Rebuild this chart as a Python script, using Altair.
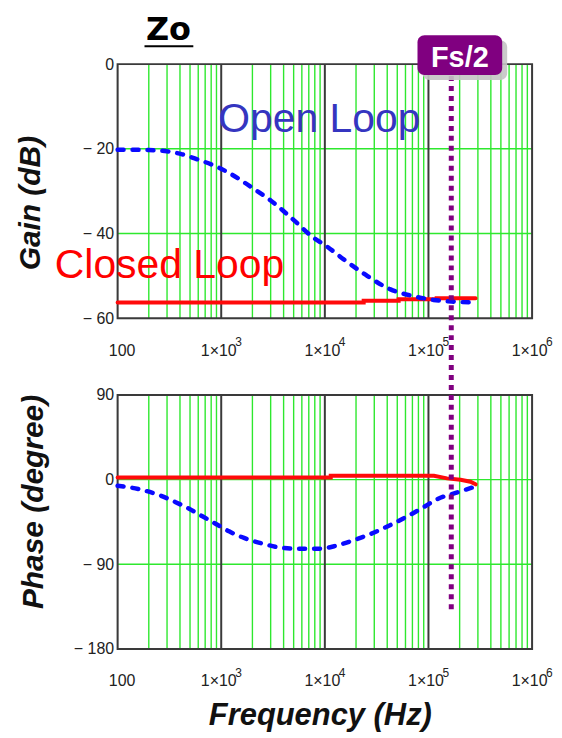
import altair as alt
import pandas as pd

# ---------------- data ----------------
freq_decades = [100, 1000, 10000, 100000, 1000000]
x_tick_base = ["100", "1×10", "1×10", "1×10", "1×10"]
x_tick_exp = ["", "3", "4", "5", "6"]
major_freqs = [1000, 10000, 100000]
minor_freqs = [m * d for d in [100, 1000, 10000, 100000] for m in range(2, 10)]

gain_ticks = [0, -20, -40, -60]
gain_grid = [-20, -40]
phase_ticks = [90, 0, -90, -180]
phase_grid = [0, -90]

ol_gain_f = [100, 200, 300, 420, 590, 920, 1150, 2080, 3000, 5050, 7870, 9840,
             15200, 25600, 43000, 72000, 112000, 175000, 285000]
ol_gain_db = [-20.2, -20.3, -20.6, -21.3, -22.5, -24.3, -25.5, -29.5, -32.2, -36.9,
              -41.1, -42.6, -46.1, -50.0, -53.2, -54.8, -55.7, -56.1, -56.3]

cl_gain_f = [100, 23700, 51600, 120000, 285000]
cl_gain_db = [-56.3, -55.9, -55.5, -55.3, -55.3]

ol_phase_f = [100, 173, 260, 363, 490, 658, 918, 1190, 1660, 2500, 3610, 5430, 8790,
              12300, 18500, 27700, 38700, 56000, 84000, 122000, 190000, 285000]
ol_phase_deg = [-6.5, -11, -17, -24, -31, -39, -48, -55, -62, -68, -72, -73.5, -73.5,
                -70.8, -64.8, -57.7, -50.6, -41.8, -31.2, -20.7, -13.6, -7.3]

cl_phase_f = [100, 11400, 11400, 113000, 151000, 204000, 254000, 285000]
cl_phase_deg = [2.3, 2.3, 4.0, 4.0, 1.3, -0.2, -2.3, -5.0]

fs_half = 166000

# ---------------- styling ----------------
W, H = 416, 255
FONT = "Liberation Sans"
GREEN = "#2ee82e"
DARK = "#3a3a3a"
BLUE = "#0a0aff"
RED = "#ff0a0a"
PURPLE = "#800080"

label_expr = " : ".join(
    f"datum.value == {v} ? '{t}'" for v, t in zip(freq_decades, x_tick_base)
) + " : ''"

xscale = alt.Scale(type="log", domain=[freq_decades[0], freq_decades[-1]], nice=False)


def x_axis(title, title_x=0, title_y=0):
    kw = dict(values=freq_decades, labelExpr=label_expr, grid=False, ticks=False,
              domain=False, labelFont=FONT, labelFontSize=16, labelColor="#222",
              labelPadding=24, labelFlush=False, labelOverlap=False,
              labelOffset={"condition": {"test": "datum.value <= 100", "value": 4},
                           "value": -3})
    if title:
        kw.update(title=title, titleFont=FONT, titleFontSize=31, titleFontWeight="bold",
                  titleFontStyle="italic", titleColor="#111", titleX=title_x, titleY=title_y,
                  titleAlign="center", titleBaseline="middle")
    else:
        kw.update(title="")
    return alt.Axis(**kw)


def y_axis(ticks, title, tx, ty):
    return alt.Axis(values=ticks, grid=False, ticks=False, domain=False,
                    labelExpr="datum.value < 0 ? '\u2212 ' + abs(datum.value) : '' + datum.value",
                    labelFont=FONT, labelFontSize=16, labelColor="#222", labelPadding=4,
                    title=title, titleFont=FONT, titleFontSize=30, titleFontWeight="bold",
                    titleFontStyle="italic", titleColor="#111", titleAngle=270,
                    titleX=tx, titleY=ty, titleAlign="center", titleBaseline="middle")


def panel(ydom, yticks, ygrid, ytitle, tx, ty, ol_f, ol_v, cl_f, cl_v, cl_interp,
          xtitle, xtx, xty, fs_y2):
    X = alt.X("f:Q", scale=xscale, axis=x_axis(xtitle, xtx, xty))
    ysc = alt.Scale(domain=ydom, nice=False, zero=False)
    Y = alt.Y("v:Q", scale=ysc, axis=y_axis(yticks, ytitle, tx, ty))

    minor = alt.Chart(pd.DataFrame({"f": minor_freqs})).mark_rule(
        color=GREEN, strokeWidth=1.4).encode(x=X)
    hgrid = alt.Chart(pd.DataFrame({"v": ygrid})).mark_rule(
        color=GREEN, strokeWidth=1.4).encode(y=Y)
    major = alt.Chart(pd.DataFrame({"f": major_freqs})).mark_rule(
        color=DARK, strokeWidth=2).encode(x=X)
    border = alt.Chart(pd.DataFrame({"k": [0]})).mark_rect(
        fill=None, stroke=DARK, strokeWidth=2).encode(
        x=alt.value(0), x2=alt.value(W), y=alt.value(0), y2=alt.value(H))

    exp_df = pd.DataFrame({"f": freq_decades, "e": x_tick_exp})
    exps = alt.Chart(exp_df).mark_text(font=FONT, fontSize=12, align="left",
                                       baseline="alphabetic", color="#222", dx=14).encode(
        x=X, y=alt.value(H + 28), text="e:N")

    cl_df = pd.DataFrame({"f": cl_f, "v": cl_v, "i": list(range(len(cl_f)))})
    cl = alt.Chart(cl_df).mark_line(color=RED, strokeWidth=4, interpolate=cl_interp,
                                    strokeCap="round").encode(
        x=X, y=Y, order="i:Q")
    ol_df = pd.DataFrame({"f": ol_f, "v": ol_v})
    ol = alt.Chart(ol_df).mark_line(color=BLUE, strokeWidth=4.5, strokeDash=[6, 9],
                                    strokeCap="round", interpolate="monotone").encode(
        x=X, y=Y)

    fs = alt.Chart(pd.DataFrame({"f": [fs_half]})).mark_rule(
        color=PURPLE, strokeWidth=5, strokeDash=[5, 5], clip=False).encode(
        x=X, y=alt.value(fs_y2[0]), y2=alt.value(fs_y2[1]))

    return [minor, hgrid, major, border, exps, cl, ol, fs]


top_layers = panel([-60, 0], gain_ticks, gain_grid, "Gain (dB)", -87, 139,
                   ol_gain_f, ol_gain_db, cl_gain_f, cl_gain_db, "step-after",
                   "", 0, 0, (12, 332))

one = pd.DataFrame({"k": [0]})
zo = alt.Chart(one).mark_text(text="Zo", font="DejaVu Sans", fontSize=32, fontWeight="bold",
                              align="center", baseline="alphabetic", color="#000").encode(
    x=alt.value(51), y=alt.value(-24))
zo_line = alt.Chart(one).mark_rule(color="#000", strokeWidth=2).encode(
    x=alt.value(27), x2=alt.value(76), y=alt.value(-18))
shadow = alt.Chart(one).mark_rect(color="#c4c4c4", cornerRadius=7, opacity=0.9).encode(
    x=alt.value(306), x2=alt.value(391), y=alt.value(-24), y2=alt.value(16))
box = alt.Chart(one).mark_rect(color=PURPLE, cornerRadius=7).encode(
    x=alt.value(301), x2=alt.value(386), y=alt.value(-29), y2=alt.value(11))
fs_text = alt.Chart(one).mark_text(text="Fs/2", font=FONT, fontSize=29, fontWeight="bold",
                                   align="center", baseline="alphabetic", color="white").encode(
    x=alt.value(343.5), y=alt.value(3))
open_txt = alt.Chart(one).mark_text(text="Open Loop", font=FONT, fontSize=41, align="left",
                                    baseline="alphabetic", color="#3535c0").encode(
    x=alt.value(101), y=alt.value(68))
closed_txt = alt.Chart(one).mark_text(text="Closed Loop", font=FONT, fontSize=41, align="left",
                                      baseline="alphabetic", color="#ff0000").encode(
    x=alt.value(-63), y=alt.value(215))

top = alt.layer(*top_layers, shadow, box, fs_text, zo, zo_line, open_txt, closed_txt).properties(
    width=W, height=H)

bot_layers = panel([-180, 90], phase_ticks, phase_grid, "Phase (degree)", -84, 107,
                   ol_phase_f, ol_phase_deg, cl_phase_f, cl_phase_deg, "linear",
                   "Frequency (Hz)", 203, 67, (0, 218))
bottom = alt.layer(*bot_layers).properties(width=W, height=H)

chart = alt.vconcat(top, bottom, spacing=77, bounds="flush").properties(
    padding={"left": 7, "top": 4, "right": 0, "bottom": 0}
).configure_view(strokeWidth=0).configure(background="white")

chart.save("out.html", embed_options={"renderer": "svg", "actions": False})
